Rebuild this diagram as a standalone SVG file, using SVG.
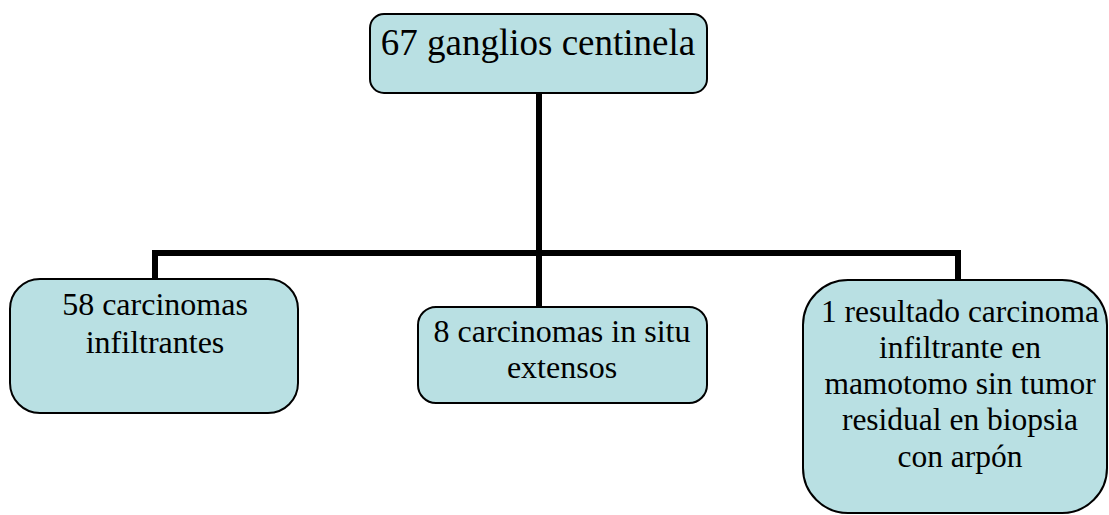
<svg xmlns="http://www.w3.org/2000/svg" width="1109" height="515" viewBox="0 0 1109 515">
<style>
.box{fill:#b9e0e3;stroke:#000;stroke-width:2}
.t{fill:#000;text-anchor:middle}
.conn{stroke:#000;stroke-width:6;fill:none}
</style>
<rect width="1109" height="515" fill="#fff"/>
<g id="connectors">
<line class="conn" x1="539" y1="93" x2="539" y2="253"/>
<line class="conn" x1="152" y1="253" x2="961" y2="253"/>
<line class="conn" x1="155" y1="250" x2="155" y2="280"/>
<line class="conn" x1="539" y1="253" x2="539" y2="307"/>
<line class="conn" x1="958" y1="250" x2="958" y2="281"/>
</g>
<g font-family="'Liberation Serif', 'DejaVu Serif', 'Times New Roman', serif">
<g id="n-top">
<rect class="box" x="370" y="14" width="337" height="79" rx="14"/>
<text class="t" x="538" y="55" font-size="37">67 ganglios centinela</text>
</g>
<g id="n-left">
<rect class="box" x="10" y="279" width="288" height="134" rx="30"/>
<text class="t" x="155" y="315" font-size="32">58 carcinomas</text>
<text class="t" x="155" y="353" font-size="32">infiltrantes</text>
</g>
<g id="n-center">
<rect class="box" x="418" y="307" width="289" height="96" rx="18"/>
<text class="t" x="562" y="342" font-size="32">8 carcinomas in situ</text>
<text class="t" x="562" y="378" font-size="32">extensos</text>
</g>
<g id="n-right">
<rect class="box" x="803" y="280" width="304" height="233" rx="45"/>
<text class="t" x="960" y="322" font-size="31.5">1 resultado carcinoma</text>
<text class="t" x="960" y="358" font-size="31.5">infiltrante en</text>
<text class="t" x="960" y="394" font-size="31.5">mamotomo sin tumor</text>
<text class="t" x="960" y="430" font-size="31.5">residual en biopsia</text>
<text class="t" x="960" y="467" font-size="31.5">con arpón</text>
</g>
</g>
</svg>
